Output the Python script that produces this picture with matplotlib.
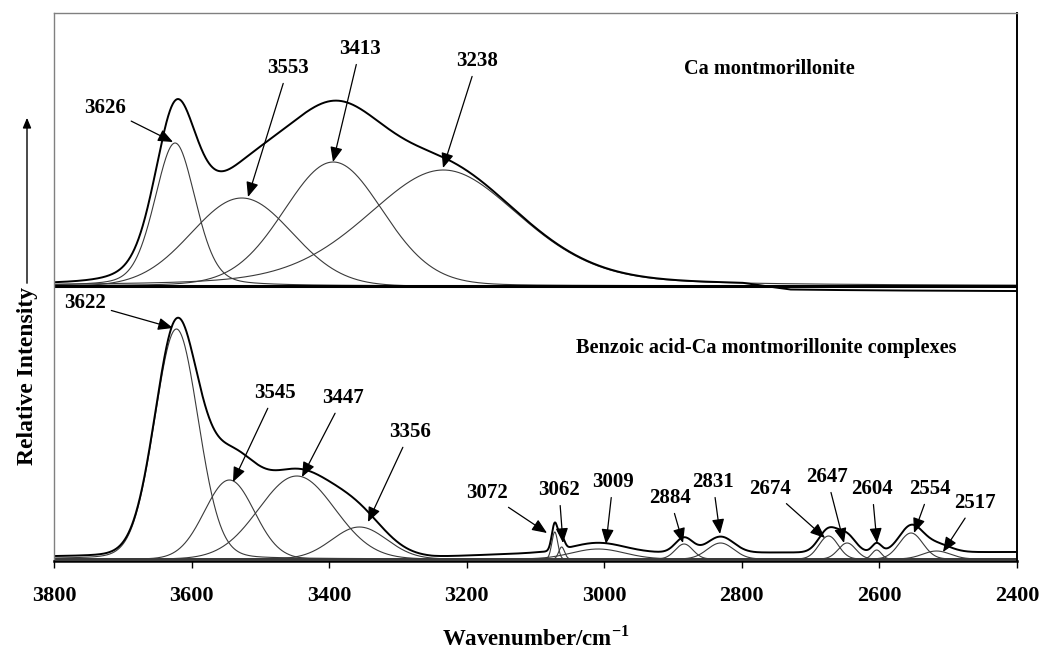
import numpy as np
import matplotlib
matplotlib.use('Agg')
import matplotlib.pyplot as plt

plt.rcParams['font.family'] = ['Liberation Serif', 'DejaVu Serif']
plt.rcParams['font.weight'] = 'bold'
plt.rcParams['mathtext.fontset'] = 'custom'
plt.rcParams['mathtext.rm'] = 'Liberation Serif:bold'
plt.rcParams['mathtext.bf'] = 'Liberation Serif:bold'

# ---------------- data ----------------
# Ca montmorillonite: fitted band components
upper_centers = [3624, 3527, 3394, 3234]
upper_heights = [143, 88, 124, 116]
upper_fwhm = [70, 172, 170, 265]
upper_eta = [0.25, 0.0, 0.1, 0.3]
upper_labels = ['3626', '3553', '3413', '3238']
# spectrum baseline (tail dips slightly below zero)
upper_base_w = [3800, 2800, 2730, 2400]
upper_base_y = [0, 0, -6, -6]

# Benzoic acid-Ca montmorillonite complexes: fitted band components
lower_centers = [3622, 3545, 3447, 3356, 3072, 3062, 3009, 2884, 2831,
                 2674, 2647, 2604, 2554, 2517]
lower_heights = [230, 79, 83, 32, 27, 12, 10, 15, 16, 23, 16, 9, 26, 8]
lower_fwhm = [75, 85, 130, 94, 10, 10, 90, 30, 45, 33, 30, 16, 40, 47]
lower_eta = [0.1, 0, 0, 0, 0, 0, 0, 0, 0, 0, 0, 0, 0, 0]
lower_labels = ['3622', '3545', '3447', '3356', '3072', '3062', '3009',
                '2884', '2831', '2674', '2647', '2604', '2554', '2517']
lower_base_w = [3800, 3250, 3100, 2400]
lower_base_y = [2, 2, 6, 7]

xticks = [3800, 3600, 3400, 3200, 3000, 2800, 2600, 2400]

# ---------------- layout ----------------
W, H = 1043, 664
AX_L, AX_R, AX_T, AX_B = 54, 1017, 13, 561
UPPER_OFF = 275
LOWER_OFF = 2


def P(px, py):
    """pixel position -> data coordinates"""
    return (3800 - (px - AX_L) * 1400 / (AX_R - AX_L), AX_B - py)


def band(w, c, h, fwhm, eta):
    s = fwhm / 2.3548
    g = np.exp(-0.5 * ((w - c) / s) ** 2)
    l = 1.0 / (1.0 + (2 * (w - c) / fwhm) ** 2)
    return h * ((1 - eta) * g + eta * l)


fig = plt.figure(figsize=(W / 100, H / 100), dpi=100)
ax = fig.add_axes([AX_L / W, 1 - AX_B / H, (AX_R - AX_L) / W, (AX_B - AX_T) / H])
ax.set_xlim(3800, 2400)
ax.set_ylim(0, AX_B - AX_T)

w = np.linspace(3800, 2400, 2801)

# upper spectrum
tot = np.zeros_like(w)
for c, h, f, e in zip(upper_centers, upper_heights, upper_fwhm, upper_eta):
    comp = band(w, c, h, f, e)
    tot += comp
    ax.plot(w, UPPER_OFF + comp, color='#3a3a3a', lw=0.8)
tot += np.interp(w, upper_base_w[::-1], upper_base_y[::-1])
ax.plot(w, UPPER_OFF + tot, color='black', lw=1.4)
ax.axhline(UPPER_OFF, color='black', lw=2.2)

# lower spectrum
tot = np.zeros_like(w)
for c, h, f, e in zip(lower_centers, lower_heights, lower_fwhm, lower_eta):
    comp = band(w, c, h, f, e)
    tot += comp
    ax.plot(w, LOWER_OFF + comp, color='#3a3a3a', lw=0.8)
tot += np.interp(w, lower_base_w[::-1], lower_base_y[::-1])
ax.plot(w, LOWER_OFF + tot, color='black', lw=1.4)

# annotations: (text centre px, arrow tip px)
upper_ann = [((105, 108), (173, 142)),
             ((288, 68), (248, 197)),
             ((360, 49), (333, 162)),
             ((477, 61), (443, 168))]
lower_ann = [((85, 303), (173, 328)),
             ((275, 393), (233, 482)),
             ((343, 398), (302, 477)),
             ((410, 432), (368, 522)),
             ((487, 493), (547, 533)),
             ((559, 490), (563, 543)),
             ((613, 482), (606, 544)),
             ((670, 498), (683, 543)),
             ((713, 482), (720, 534)),
             ((770, 489), (825, 538)),
             ((827, 477), (844, 543)),
             ((872, 489), (877, 543)),
             ((930, 489), (914, 533)),
             ((975, 503), (943, 552))]

for lab, (tp, ap) in zip(upper_labels + lower_labels, upper_ann + lower_ann):
    ax.annotate(lab, xy=P(*ap), xytext=P(*tp), ha='center', va='center',
                fontsize=15, fontweight='bold',
                arrowprops=dict(arrowstyle='-|>,head_length=0.6,head_width=0.25',
                                color='black', lw=0.9, shrinkA=2, shrinkB=0))

ax.text(*P(769, 69), 'Ca montmorillonite', ha='center', va='center',
        fontsize=14.6, fontweight='bold')
ax.text(*P(766, 348), 'Benzoic acid-Ca montmorillonite complexes',
        ha='center', va='center', fontsize=14.6, fontweight='bold')

# spines & ticks
for s in ['left', 'top']:
    ax.spines[s].set_color('#808080')
    ax.spines[s].set_linewidth(1.0)
ax.spines['right'].set_color('black')
ax.spines['right'].set_linewidth(1.4)
ax.spines['bottom'].set_color('black')
ax.spines['bottom'].set_linewidth(1.8)
ax.set_yticks([])
ax.set_xticks(xticks)
ax.set_xticklabels([str(t) for t in xticks], fontsize=16, fontweight='bold')
ax.tick_params(axis='x', direction='out', length=5, width=1, pad=13)

fig.text(AX_L / W + (AX_R - AX_L) / W / 2, 1 - 638 / H, r'Wavenumber/cm$^{-1}$',
         ha='center', va='center', fontsize=16.5, fontweight='bold')
fig.text(28 / W, 1 - 376 / H, 'Relative Intensity', rotation=90,
         ha='center', va='center', fontsize=17, fontweight='bold')
fig.add_artist(matplotlib.patches.FancyArrowPatch(
    (27 / W, 1 - 286 / H), (27 / W, 1 - 115 / H), transform=fig.transFigure,
    arrowstyle='-|>,head_length=6,head_width=2.5', color='black', lw=1.0))

fig.savefig('out.png', dpi=100)
